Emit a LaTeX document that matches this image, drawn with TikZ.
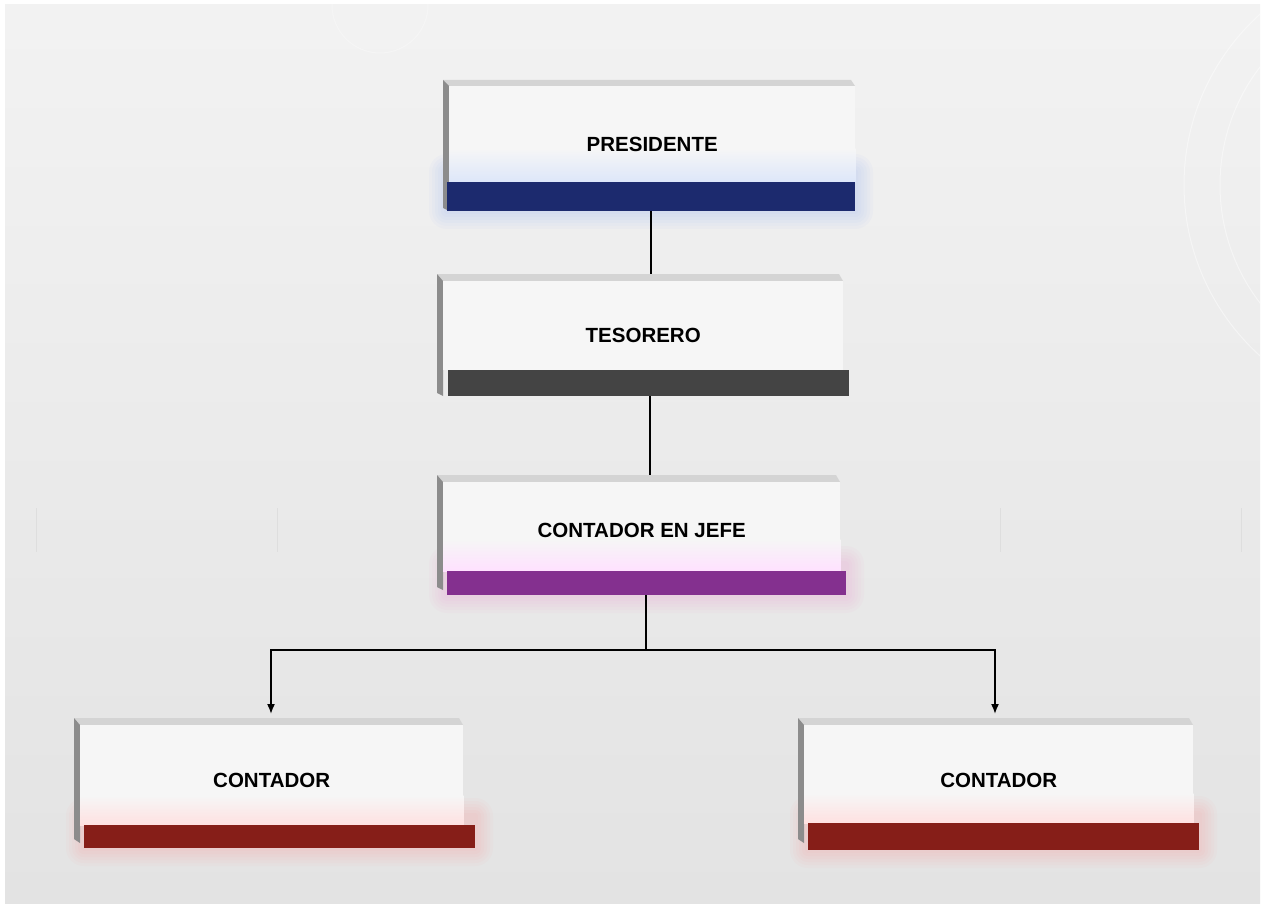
\documentclass[tikz,border=0pt]{standalone}
\usepackage{fontspec}
\setmainfont{Liberation Sans}
\usetikzlibrary{arrows.meta, positioning, calc}

\definecolor{presblue}{HTML}{1C2A6E}
\definecolor{tesgray}{HTML}{444444}
\definecolor{jefepurple}{HTML}{84308F}
\definecolor{contred}{HTML}{861E18}
\definecolor{facegray}{HTML}{F6F6F6}
\definecolor{presglow}{HTML}{9DB8F0}

\tikzset{
  face/.style={draw=none, fill=facegray, inner sep=0pt, anchor=north west},
  bar/.style={draw=none, inner sep=0pt, anchor=north west},
  title/.style={font=\fontsize{20.5}{24}\selectfont\bfseries, text=black, inner sep=0pt},
  topside/.style={fill=black!17},
  leftside/.style={fill=black!45},
  conn/.style={line width=1.6pt, black},
  tip/.style={-{Latex[length=10pt, width=8pt]}},
}

\begin{document}
\begin{tikzpicture}[x=1pt, y=-1pt]
% Background
\fill[white] (0,0) rectangle (1264,904);
\shade[top color=black!5, bottom color=black!11] (5,5) rectangle (1260,904);
\begin{scope}
\clip (5,5) rectangle (1260,904);
\draw[white, line width=1pt, opacity=0.45] (1414,185) circle (230);
\draw[white, line width=1pt, opacity=0.45] (1414,185) circle (194);
\draw[white, line width=1pt, opacity=0.3] (380,5) circle (48);
\end{scope}
\foreach \x in {36,277,1000,1241}
  \draw[black!13, line width=1pt] (\x,508) -- (\x,552);

% Box 1: Presidente
\foreach \r in {3,6,...,18}
  \fill[presglow, opacity=0.06, rounded corners=\r pt] (447-\r,172-\r) rectangle (855+\r,211+\r);
\fill[topside] (443,80) -- (851,80) -- (855,86) -- (449,86) -- cycle;
\fill[leftside] (443,80) -- (449,86) -- (449,211) -- (443,208) -- cycle;
\node[face, minimum width=406pt, minimum height=96pt] (presface) at (449,86) {};
\shade[top color=facegray, bottom color=presglow!35] ($(presface.south west)+(0,-34)$) rectangle (presface.south east);
\node[bar, fill=presblue, minimum width=408pt, minimum height=29pt] (presbar) at (447,182) {};
\node[title] (presT) at ($(presface.center)+(0,10)$) {PRESIDENTE};

% Box 2: Tesorero
\fill[topside] (437,274) -- (839,274) -- (843,281) -- (443,281) -- cycle;
\fill[leftside] (437,274) -- (443,281) -- (443,396) -- (437,393) -- cycle;
\node[face, minimum width=400pt, minimum height=89pt] (tesface) at (443,281) {};
\node[bar, fill=tesgray, minimum width=401pt, minimum height=26pt] (tesbar) at (448,370) {};
\node[title] (tesT) at ($(tesface.center)+(0,10)$) {TESORERO};
\coordinate (testop) at (640,274);

% Box 3: Contador en jefe
\foreach \r in {3,6,...,18}
  \fill[magenta!40, opacity=0.05, rounded corners=\r pt] (447-\r,564-\r) rectangle (846+\r,595+\r);
\fill[topside] (437,475) -- (836,475) -- (840,482) -- (443,482) -- cycle;
\fill[leftside] (437,475) -- (443,482) -- (443,590) -- (437,587) -- cycle;
\node[face, minimum width=397pt, minimum height=89pt] (jefeface) at (443,482) {};
\shade[top color=facegray, bottom color=magenta!12] ($(jefeface.south west)+(0,-32)$) rectangle (jefeface.south east);
\node[bar, fill=jefepurple, minimum width=399pt, minimum height=24pt] (jefebar) at (447,571) {};
\node[title] (jefeT) at ($(jefeface.center)+(0,4)$) {CONTADOR EN JEFE};
\coordinate (jefetop) at (640,475);

% Box 4: Contador (izquierda)
\foreach \r in {3,6,...,18}
  \fill[red!40, opacity=0.05, rounded corners=\r pt] (84-\r,816-\r) rectangle (475+\r,848+\r);
\fill[topside] (74,718) -- (459,718) -- (463,725) -- (80,725) -- cycle;
\fill[leftside] (74,718) -- (80,725) -- (80,843) -- (74,839) -- cycle;
\node[face, minimum width=383pt, minimum height=100pt] (contAface) at (80,725) {};
\shade[top color=facegray, bottom color=red!12] ($(contAface.south west)+(0,-30)$) rectangle (contAface.south east);
\node[bar, fill=contred, minimum width=391pt, minimum height=23pt] (contAbar) at (84,825) {};
\node[title] (contAT) at ($(contAface.center)+(0,5)$) {CONTADOR};
\coordinate (contAtop) at (271,718);

% Box 5: Contador (derecha)
\foreach \r in {3,6,...,18}
  \fill[red!40, opacity=0.05, rounded corners=\r pt] (808-\r,814-\r) rectangle (1199+\r,850+\r);
\fill[topside] (798,718) -- (1189,718) -- (1193,725) -- (804,725) -- cycle;
\fill[leftside] (798,718) -- (804,725) -- (804,843) -- (798,839) -- cycle;
\node[face, minimum width=389pt, minimum height=98pt] (contBface) at (804,725) {};
\shade[top color=facegray, bottom color=red!12] ($(contBface.south west)+(0,-30)$) rectangle (contBface.south east);
\node[bar, fill=contred, minimum width=391pt, minimum height=27pt] (contBbar) at (808,823) {};
\node[title] (contBT) at ($(contBface.center)+(0,6)$) {CONTADOR};
\coordinate (contBtop) at (995,718);

% Connectors
\coordinate (split) at (646,650);
\draw[conn] (presbar.south -| 651,0) -- (testop -| 651,0);
\draw[conn] (tesbar.south -| 650,0) -- (jefetop -| 650,0);
\draw[conn] (jefebar.south -| split) -- (split);
\draw[conn, tip] (split) -| ($(contAtop)+(0,-4)$);
\draw[conn, tip] (split) -| ($(contBtop)+(0,-4)$);
\end{tikzpicture}
\end{document}
